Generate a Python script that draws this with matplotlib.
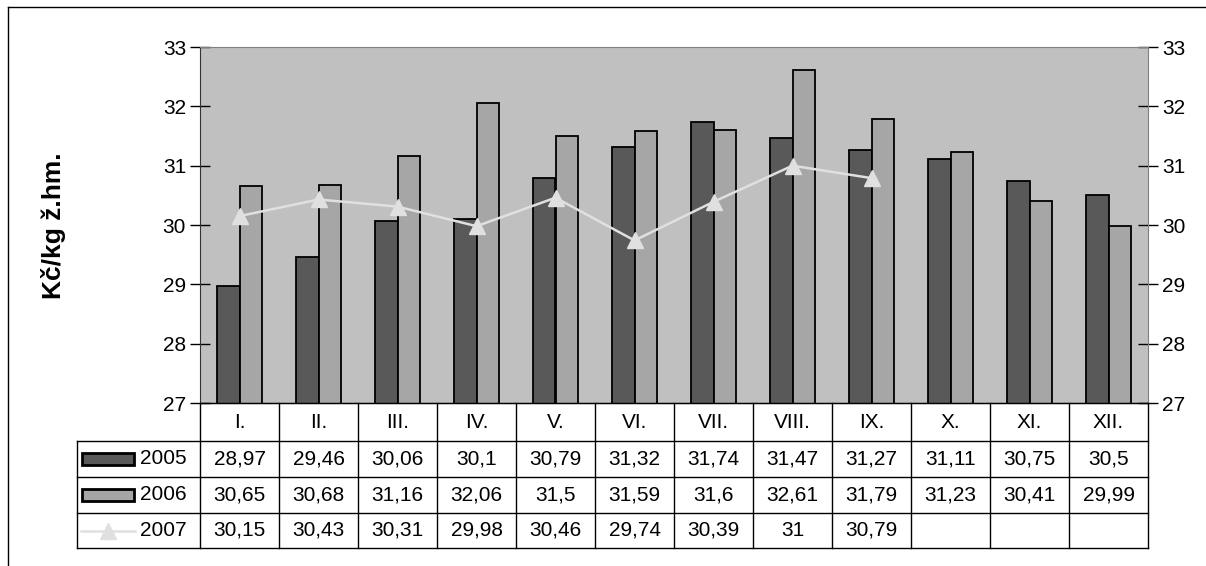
import matplotlib.pyplot as plt
import numpy as np
from matplotlib.patches import Rectangle
from matplotlib.lines import Line2D

plt.rcParams['font.family'] = ['Liberation Sans', 'DejaVu Sans']

months = ['I.', 'II.', 'III.', 'IV.', 'V.', 'VI.', 'VII.', 'VIII.', 'IX.', 'X.', 'XI.', 'XII.']
y2005 = [28.97, 29.46, 30.06, 30.1, 30.79, 31.32, 31.74, 31.47, 31.27, 31.11, 30.75, 30.5]
y2006 = [30.65, 30.68, 31.16, 32.06, 31.5, 31.59, 31.6, 32.61, 31.79, 31.23, 30.41, 29.99]
y2007 = [30.15, 30.43, 30.31, 29.98, 30.46, 29.74, 30.39, 31, 30.79]

W, H = 1206, 566
fs = 15
c05, c06, c07 = '#595959', '#a6a6a6', '#e0e0e0'
fig = plt.figure(figsize=(W / 100, H / 100), dpi=100)

# plot area in pixels
px0, px1, py0, py1 = 200, 1148, 47, 403
ax = fig.add_axes([px0 / W, 1 - py1 / H, (px1 - px0) / W, (py1 - py0) / H])
ax.set_facecolor('#c0c0c0')

x = np.arange(len(months))
bw = 0.29
ax.bar(x - bw / 2, y2005, bw, color=c05, edgecolor='black', linewidth=1.3, zorder=2)
ax.bar(x + bw / 2, y2006, bw, color=c06, edgecolor='black', linewidth=1.3, zorder=2)
ax.plot(x[:len(y2007)], y2007, color=c07, marker='^', markersize=12, linewidth=1.8, zorder=3)

ax.set_xlim(-0.5, len(months) - 0.5)
ax.set_ylim(27, 33)
ax.set_yticks(range(27, 34))
ax.set_xticks([])
ax.tick_params(axis='y', direction='inout', length=14, width=1, labelsize=fs, pad=3,
               left=True, right=True, labelleft=True, labelright=True)
for s in ['top', 'right']:
    ax.spines[s].set_color('#808080')
ax.spines['left'].set_color('#333333')
ax.spines['bottom'].set_color('black')


def fx(px):
    return px / W


def fy(py):
    return 1 - py / H


fig.text(fx(53), fy(226), 'Kč/kg ž.hm.', rotation=90, ha='center', va='center',
         fontsize=19, fontweight='bold')

# data table below the plot
rows = [py1, 441, 477, 513, 548]
colw = (px1 - px0) / len(months)
lx0 = 77

lc = 'black'
lw = 1.0
# horizontal lines
fig.add_artist(Line2D([fx(px0), fx(px1)], [fy(rows[0])] * 2, color=lc, lw=lw))
for r in rows[1:]:
    fig.add_artist(Line2D([fx(lx0), fx(px1)], [fy(r)] * 2, color=lc, lw=lw))
# vertical lines
for i in range(len(months) + 1):
    xx = px0 + i * colw
    fig.add_artist(Line2D([fx(xx)] * 2, [fy(rows[0]), fy(rows[-1])], color=lc, lw=lw))
fig.add_artist(Line2D([fx(lx0)] * 2, [fy(rows[1]), fy(rows[-1])], color=lc, lw=lw))

for i, m in enumerate(months):
    cx = px0 + (i + 0.5) * colw
    fig.text(fx(cx), fy((rows[0] + rows[1]) / 2), m, ha='center', va='center', fontsize=fs)


def fmt(v):
    s = ('%.2f' % v).rstrip('0').rstrip('.')
    return s.replace('.', ',')


series = [('2005', y2005), ('2006', y2006), ('2007', y2007)]
for j, (name, vals) in enumerate(series):
    cy = (rows[j + 1] + rows[j + 2]) / 2
    for i, v in enumerate(vals):
        cx = px0 + (i + 0.5) * colw
        fig.text(fx(cx), fy(cy), fmt(v), ha='center', va='center', fontsize=fs)
    fig.text(fx(140), fy(cy), name, ha='left', va='center', fontsize=fs)

# legend keys
for j, col in enumerate([c05, c06]):
    cy = (rows[j + 1] + rows[j + 2]) / 2
    fig.add_artist(Rectangle((fx(82), fy(cy + 6)), (134 - 82) / W, 12 / H,
                             facecolor=col, edgecolor='black', lw=2))
cy = (rows[3] + rows[4]) / 2
fig.add_artist(Line2D([fx(81), fx(135)], [fy(cy)] * 2, color=c07, lw=1.8))
fig.add_artist(Line2D([fx(108)], [fy(cy)], color=c07, marker='^', markersize=12))

# outer frame (only top and left edges fall inside the picture)
fig.add_artist(Line2D([fx(8), 1], [fy(7)] * 2, color='black', lw=1))
fig.add_artist(Line2D([fx(8)] * 2, [0, fy(7)], color='black', lw=1))

fig.savefig('out.png', dpi=100)
